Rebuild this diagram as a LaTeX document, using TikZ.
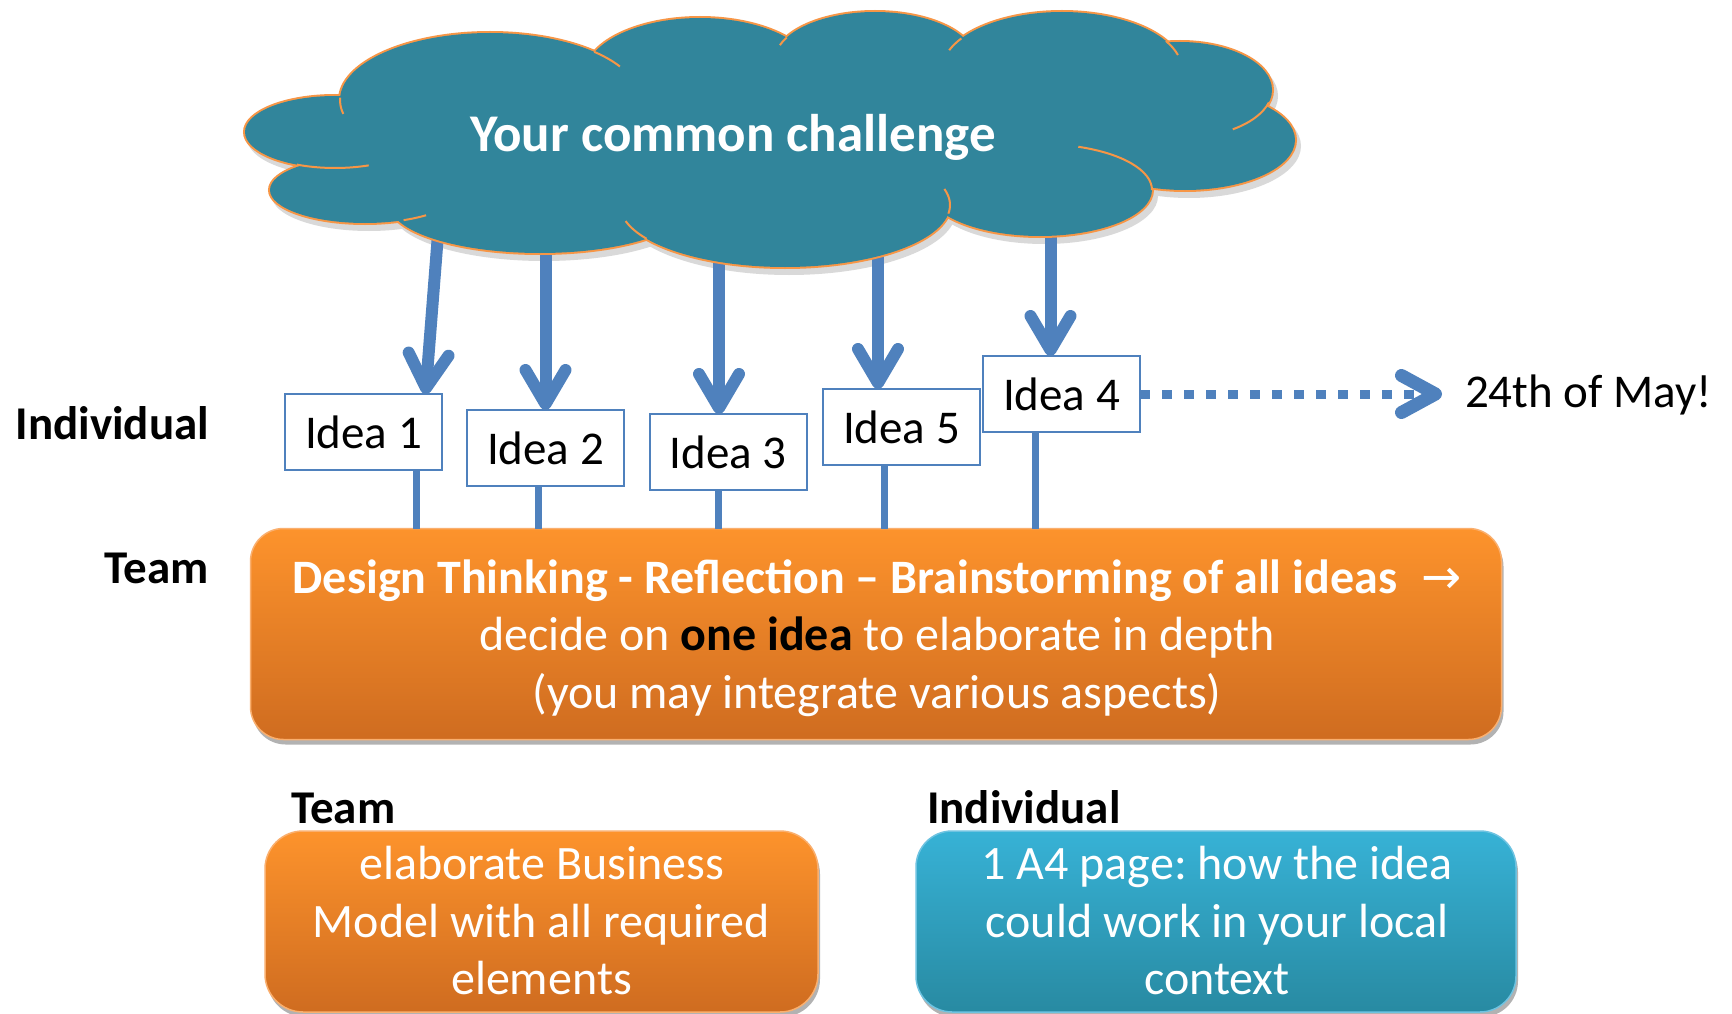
\documentclass[tikz,border=0pt]{standalone}
\usepackage{fontspec}
\setmainfont{Carlito}
\newfontfamily\arrowfont{DejaVu Sans}
\usetikzlibrary{arrows.meta,calc,shadows}
\frenchspacing
\definecolor{cloudteal}{RGB}{49,133,155}
\definecolor{cloudedge}{RGB}{247,150,70}
\definecolor{ideablue}{RGB}{79,129,189}
\definecolor{orangetop}{RGB}{253,147,44}
\definecolor{orangebot}{RGB}{207,108,32}
\definecolor{orangeedge}{RGB}{250,175,110}
\definecolor{bluetop}{RGB}{55,178,214}
\definecolor{bluebot}{RGB}{40,138,162}
\definecolor{blueedge}{RGB}{110,195,225}
\begin{document}
\begin{tikzpicture}[x=1pt,y=-1pt,
  every node/.style={inner sep=0pt, outer sep=0pt, font=\fontsize{47}{56.5}\selectfont},
  ideabox/.style={draw=ideablue, line width=2pt, fill=white, minimum width=157pt, minimum height=76pt},
  bigarrow/.style={draw=ideablue, line width=12pt, -{Straight Barb[length=34pt,width=40pt,round]}},
  stemline/.style={draw=ideablue, line width=7pt},
  dotarrow/.style={draw=ideablue, line width=9pt, dash pattern=on 10pt off 12pt, -{Straight Barb[length=34pt,width=37pt,round,line width=13pt 0]}},
  lbl/.style={font=\fontsize{47}{56.5}\selectfont\bfseries},
  boxshadow/.style={drop shadow={shadow xshift=2pt, shadow yshift=-5pt, opacity=0.3, fill=black}},
  orangebox/.style={rounded corners=33pt, top color=orangetop, bottom color=orangebot, draw=orangeedge, line width=1.5pt, boxshadow},
  bluebox/.style={rounded corners=36pt, top color=bluetop, bottom color=bluebot, draw=blueedge, line width=1.5pt, boxshadow},
  boxtext/.style={text=white, align=center, font=\fontsize{48}{57.5}\selectfont},
  cloudline/.style={draw=cloudedge, line width=2pt}
]
\fill[white] (0,0) rectangle (1732,1014);
\useasboundingbox (0,0) rectangle (1732,1014);

\def\lobes{335/132/90/36, 365/190/95/33, 490/100/150/67, 700/75/115/57, 875/60/100/48, 1062/70/120/58, 1180/90/92/48, 1185/140/110/50, 1040/190/112/46, 785/205/165/62, 540/205/150/48, 760/145/420/75}

% cloud shadow
\foreach \cx/\cy/\rx/\ry in \lobes {\fill[black!15] (\cx+4,\cy+6) ellipse [x radius=\rx+2, y radius=\ry+2];}

% idea boxes
\node[ideabox] (i1) at (363.5,432) {Idea 1};
\node[ideabox] (i2) at (545.5,448) {Idea 2};
\node[ideabox] (i3) at (728,452) {Idea 3};
\node[ideabox] (i5) at (901.5,427) {Idea 5};
\node[ideabox] (i4) at (1061.5,394) {Idea 4};

% arrows from the cloud
\coordinate (c1) at (439.5,215);
\coordinate (c2) at (545.5,225);
\coordinate (c3) at (719,225);
\coordinate (c5) at (878,220);
\coordinate (c4) at (1050.5,200);
\draw[bigarrow] (c1) -- ($(i1.north)+(62,0)$);
\draw[bigarrow] (c2) -- (i2.north);
\draw[bigarrow] (c3) -- ($(i3.north)+(-9,0)$);
\draw[bigarrow] (c5) -- ($(i5.north)+(-23.5,0)$);
\draw[bigarrow] (c4) -- ($(i4.north)+(-11,0)$);

% cloud
\foreach \cx/\cy/\rx/\ry in \lobes {\draw[draw=cloudedge, line width=4pt] (\cx,\cy) ellipse [x radius=\rx, y radius=\ry];}
\foreach \cx/\cy/\rx/\ry in \lobes {\fill[cloudteal] (\cx,\cy) ellipse [x radius=\rx, y radius=\ry];}
\foreach \cx/\cy/\rx/\ry/\a/\b in {335/132/90/36/68/115, 490/100/150/67/168/182, 490/100/150/67/314/330, 875/60/100/48/198/208, 1062/70/120/58/200/213, 1062/70/120/58/330/345, 1180/90/92/48/15/55, 1040/190/112/46/290/360, 785/205/165/62/345/368, 785/205/165/62/147/165, 365/190/95/33/50/66}
  {\draw[cloudline] ({\cx+\rx*cos(\a)},{\cy+\ry*sin(\a)}) arc[start angle=\a, end angle=\b, x radius=\rx, y radius=\ry];}
\node[font=\fontsize{53}{60}\selectfont\bfseries, text=white, anchor=base] (challenge) at (733,152) {Your common challenge};

% side labels
\node[lbl, anchor=base east] (indivlbl) at (209,439) {Individual};
\node[lbl, anchor=base east] (teamlbl) at (209,583) {Team};

% main orange box
\node[orangebox, minimum width=1251pt, minimum height=211pt] (mainbox) at (876,634) {};
\node[boxtext] (maintext) at (877,638) {{\bfseries Design Thinking - Reflection -- Brainstorming of all ideas\hspace{24pt}{\arrowfont\mdseries →}}\\decide on {\bfseries\color{black}one idea} to elaborate in depth\\(you may integrate various aspects)};

% stems from ideas to the box
\foreach \n/\dx in {i1/52.5, i2/-7.5, i3/-10, i5/-17.5, i4/-26.5}
  {\coordinate (t\n) at ($(\n.south)+(\dx,0)$);
   \draw[stemline] (t\n) -- (t\n |- mainbox.north);}

% deadline
\node[anchor=base west] (may) at (1465,407) {24th of May!};
\draw[dotarrow, shorten >=23pt] (i4.east) -- (i4.east -| may.west);

% bottom
\node[lbl, anchor=base west] (teamlbl2) at (291,823) {Team};
\node[lbl, anchor=base west] (indivlbl2) at (927,823) {Individual};
\node[orangebox, rounded corners=38pt, minimum width=553pt, minimum height=181pt] (teambox) at (541.5,921.5) {};
\node[bluebox, minimum width=600pt, minimum height=181pt] (indivbox) at (1216,921.5) {};
\node[boxtext] (teamtxt) at (541.5,921) {elaborate Business\\Model with all required\\elements};
\node[boxtext] (indivtxt) at (1217,921) {1 A4 page: how the idea\\could work in your local\\context};
\end{tikzpicture}
\end{document}
